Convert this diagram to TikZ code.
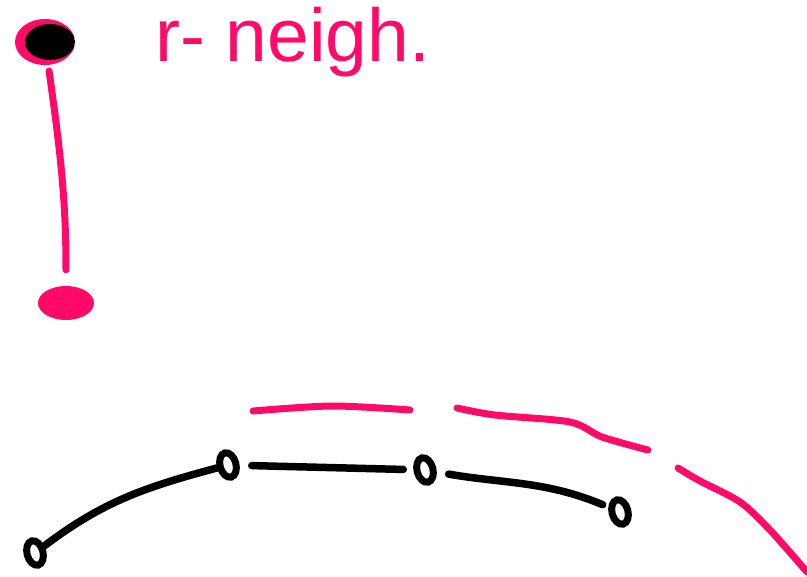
\documentclass[tikz,border=0pt]{standalone}
\usepackage{fontspec}
\setmainfont{Liberation Sans}
\usepackage{tikz}
\usetikzlibrary{shapes.geometric, positioning, calc}
\usepackage{xcolor}
\definecolor{inkpink}{HTML}{FF0A68}
\tikzstyle{bigdot} = [ellipse, minimum width=60pt, minimum height=46pt, inner sep=0pt,
    fill=inkpink, draw=none,
    path picture={\fill[black] ([xshift=5pt]path picture bounding box.center) ellipse (25pt and 18pt);}]
\tikzstyle{pinkdot} = [ellipse, minimum width=56pt, minimum height=34pt, inner sep=0pt,
    fill=inkpink, draw=none]
\tikzstyle{vertex} = [ellipse, minimum width=16pt, minimum height=25pt, inner sep=0pt,
    draw=black, line width=7pt, rotate=15]
\tikzstyle{pinkline} = [draw=inkpink, line width=7pt, line cap=round, line join=round]
\tikzstyle{blackline} = [draw=black, line width=7.5pt, line cap=round, line join=round]
\tikzstyle{handtext} = [text=inkpink, font=\fontsize{75}{84}\selectfont, inner sep=0pt]

\begin{document}
\begin{tikzpicture}[x=1pt, y=-1pt]
\useasboundingbox (0,0) rectangle (807,577);
% r-neighbourhood legend
\node (far) [bigdot] at (45,42) {};
\node (near) [pinkdot] at (66,303) {};
\node (lbl) [handtext, anchor=base west] at (155,62) {r- neigh.};
\draw[pinkline, shorten <=6pt, shorten >=16pt] (far) to[out=-82,in=90] (near);

% path of points
\node (p1) [vertex] at (35,553) {};
\node (p2) [vertex] at (228,465) {};
\node (p3) [vertex] at (425,470) {};
\node (p4) [vertex] at (620,512) {};
\draw[blackline, shorten <=0pt, shorten >=0pt] (p1) to[out=35,in=193] (p2);
\draw[blackline, shorten <=12pt, shorten >=10pt] (p2) -- (p3);
\draw[blackline, shorten <=12pt, shorten >=6pt] (p3) to[out=-12,in=155] (p4);

% boundary of the neighbourhood
\draw[pinkline] plot[smooth] coordinates {(253,411) (332,406) (410,410)};
\draw[pinkline] plot[smooth] coordinates {(457,408) (495,415) (570,422) (602,437) (648,450)};
\draw[pinkline] plot[smooth] coordinates {(678,468) (700,481) (740,502) (770,530) (807,572)};
\end{tikzpicture}
\end{document}
